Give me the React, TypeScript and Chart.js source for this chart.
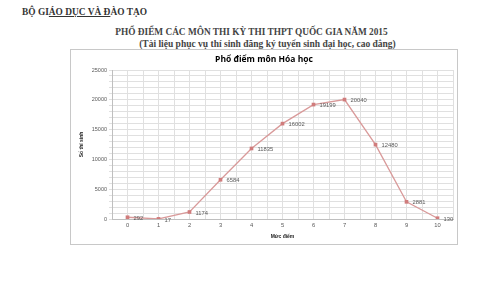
import React, { useEffect, useRef } from "react";
import { Chart, registerables } from "chart.js";

Chart.register(...registerables);

const scoreLevels = [0, 1, 2, 3, 4, 5, 6, 7, 8, 9, 10];
const studentCounts = [292, 17, 1174, 6584, 11835, 16002, 19199, 20040, 12480, 2881, 130];
const yLabelValues = [0, 5000, 10000, 15000, 20000, 25000];

const chartTitle = "Phổ điểm môn Hóa học";
const xTitle = "Mức điểm";
const yTitle = "Số thí sinh";

const CW = 386;
const CH = 194;

export default function App() {
  const ref = useRef<HTMLCanvasElement | null>(null);

  useEffect(() => {
    if (!ref.current) return;
    const labelPlugin = {
      id: "extras",
      afterDatasetsDraw(chart: any) {
        const ctx = chart.ctx;
        const meta = chart.getDatasetMeta(0);
        ctx.save();
        ctx.font = "5.8px 'Liberation Sans', sans-serif";
        ctx.fillStyle = "#595959";
        ctx.textAlign = "left";
        ctx.textBaseline = "middle";
        meta.data.forEach((pt: any, i: number) => {
          ctx.fillText(String(studentCounts[i]), pt.x + 6, pt.y + 1);
        });
        ctx.restore();
      },
      afterDraw(chart: any) {
        const ctx = chart.ctx;
        const area = chart.chartArea;
        ctx.save();
        ctx.fillStyle = "#000";
        ctx.textAlign = "center";
        ctx.textBaseline = "middle";
        ctx.font = "bold 8.5px 'Open Sans', sans-serif";
        ctx.fillText(chartTitle, CW / 2, 10);
        ctx.font = "bold 5px 'Liberation Sans', sans-serif";
        ctx.fillStyle = "#222";
        ctx.fillText(xTitle, (area.left + area.right) / 2, 187);
        ctx.translate(11, (area.top + area.bottom) / 2);
        ctx.rotate(-Math.PI / 2);
        ctx.fillText(yTitle, 0, 0);
        ctx.restore();
      },
    };

    const chart = new Chart(ref.current, {
      type: "line",
      data: {
        datasets: [
          {
            data: scoreLevels.map((x, i) => ({ x, y: studentCounts[i] })),
            borderColor: "#d99a9a",
            borderWidth: 1.3,
            pointStyle: "rect",
            pointRadius: 2.6,
            pointBackgroundColor: "#d07c7c",
            pointBorderColor: "#d07c7c",
            pointBorderWidth: 0,
            tension: 0,
          },
        ],
      },
      options: {
        animation: false,
        responsive: false,
        maintainAspectRatio: false,
        layout: { padding: { top: 20, right: 4, left: 0, bottom: 0 } },
        plugins: { legend: { display: false }, tooltip: { enabled: false }, title: { display: false } },
        scales: {
          x: {
            type: "linear",
            min: -0.5,
            max: 10.5,
            afterFit: (s: any) => {
              s.height = 25;
            },
            ticks: {
              stepSize: 0.5,
              autoSkip: false,
              maxRotation: 0,
              padding: 3,
              color: "#595959",
              font: { size: 5.8, family: "'Liberation Sans', sans-serif" },
              callback: (v: any) => (Number.isInteger(v) && scoreLevels.includes(v) ? String(v) : ""),
            },
            grid: { color: "#e0e0e0", lineWidth: 1, tickLength: 0, drawTicks: false },
            border: { color: "#bfbfbf" },
          },
          y: {
            min: 0,
            max: 25000,
            afterFit: (s: any) => {
              s.width = 41;
            },
            ticks: {
              stepSize: 1000,
              autoSkip: false,
              padding: 2,
              color: "#595959",
              font: { size: 5.5, family: "'Liberation Sans', sans-serif" },
              callback: (v: any) => (yLabelValues.includes(v) ? String(v) : ""),
            },
            grid: { color: "#e0e0e0", lineWidth: 1, tickLength: 3 },
            border: { color: "#bfbfbf" },
          },
        },
      },
      plugins: [labelPlugin],
    } as any);
    return () => chart.destroy();
  }, []);

  const serif = "'Liberation Serif', 'Times New Roman', serif";
  return (
    <div style={{ position: "fixed", left: 0, top: 0, width: 490, height: 291, background: "#fff", overflow: "hidden" }}>
      <div
        style={{
          position: "absolute",
          left: 22,
          top: 6,
          fontFamily: serif,
          fontWeight: "bold",
          fontSize: 9.4,
          lineHeight: "12px",
          color: "#333",
          whiteSpace: "nowrap",
        }}
      >
        BỘ GI<span style={{ textDecoration: "underline" }}>ÁO DỤC VÀ Đ</span>ÀO TẠO
      </div>
      <div
        style={{
          position: "absolute",
          left: 0,
          width: 503,
          top: 27,
          textAlign: "center",
          fontFamily: serif,
          fontWeight: "bold",
          fontSize: 9.3,
          lineHeight: "11px",
          color: "#444",
          whiteSpace: "nowrap",
        }}
      >
        PHỔ ĐIỂM CÁC MÔN THI KỲ THI THPT QUỐC GIA NĂM 2015
      </div>
      <div
        style={{
          position: "absolute",
          left: 0,
          width: 535,
          top: 38.5,
          textAlign: "center",
          fontFamily: serif,
          fontWeight: "bold",
          fontSize: 9.5,
          lineHeight: "11px",
          color: "#444",
          whiteSpace: "nowrap",
        }}
      >
        (Tài liệu phục vụ thí sinh đăng ký tuyển sinh đại học, cao đẳng)
      </div>
      <div
        style={{
          position: "absolute",
          left: 70,
          top: 49,
          width: CW,
          height: CH,
          border: "1px solid #c8c8c8",
          background: "#fff",
        }}
      >
        <canvas ref={ref} width={CW} height={CH} style={{ width: CW, height: CH, display: "block" }} />
      </div>
    </div>
  );
}
